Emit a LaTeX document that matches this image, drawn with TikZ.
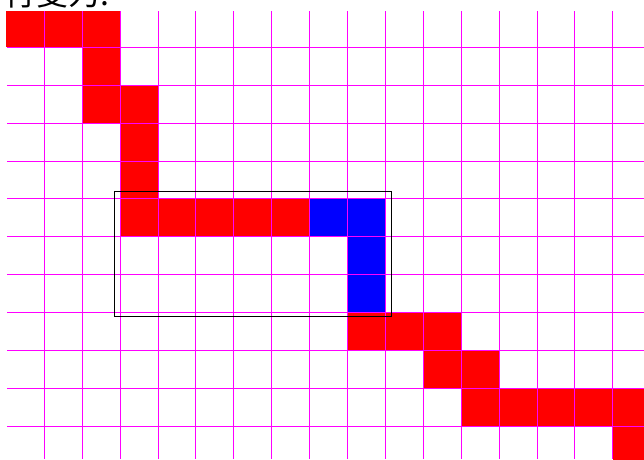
\documentclass[tikz,border=0pt]{standalone}
\usepackage{fontspec}
\newfontfamily\cjk{Noto Sans CJK SC}
\definecolor{gridmag}{RGB}{255,0,255}
\tikzset{
  redcell/.style={fill=red, draw=none},
  bluecell/.style={fill=blue, draw=none},
  gridline/.style={draw=gridmag, line width=1pt},
  selbox/.style={draw=black, line width=0.8pt},
}
\newcommand{\cellsz}{37.9}
\begin{document}
\begin{tikzpicture}[x=1pt,y=-1pt]
\useasboundingbox (0,0) rectangle (644,459);
\begin{scope}
\clip (0,11) rectangle (644,459);
% red cells
\foreach \c/\r in {0/0,1/0,2/0, 2/1, 2/2,3/2, 3/3, 3/4, 3/5,4/5,5/5,6/5,7/5, 9/8,10/8,11/8, 11/9,12/9, 12/10,13/10,14/10,15/10,16/10, 16/11}{
  \path[redcell] ({6.4+\cellsz*\c},{9.4+\cellsz*\r}) rectangle ({44.3+\cellsz*\c},{47.3+\cellsz*\r});
}
% blue cells
\foreach \c/\r in {8/5,9/5,9/6,9/7}{
  \path[bluecell] ({6.4+\cellsz*\c},{9.4+\cellsz*\r}) rectangle ({44.3+\cellsz*\c},{47.3+\cellsz*\r});
}
\end{scope}
% grid
\foreach \k in {0,...,15}{
  \draw[gridline] ({44.3+\cellsz*\k},11) -- ({44.3+\cellsz*\k},459);
}
\foreach \k in {0,...,10}{
  \draw[gridline] (7,{47.3+\cellsz*\k}) -- (644,{47.3+\cellsz*\k});
}
% selection box
\draw[selbox] (114.3,191.7) rectangle (391,316);
% title
\node[anchor=base west, inner sep=0pt, font=\cjk\fontsize{32}{36}\selectfont] (title) at (4,5) {行变为:};
\end{tikzpicture}
\end{document}
